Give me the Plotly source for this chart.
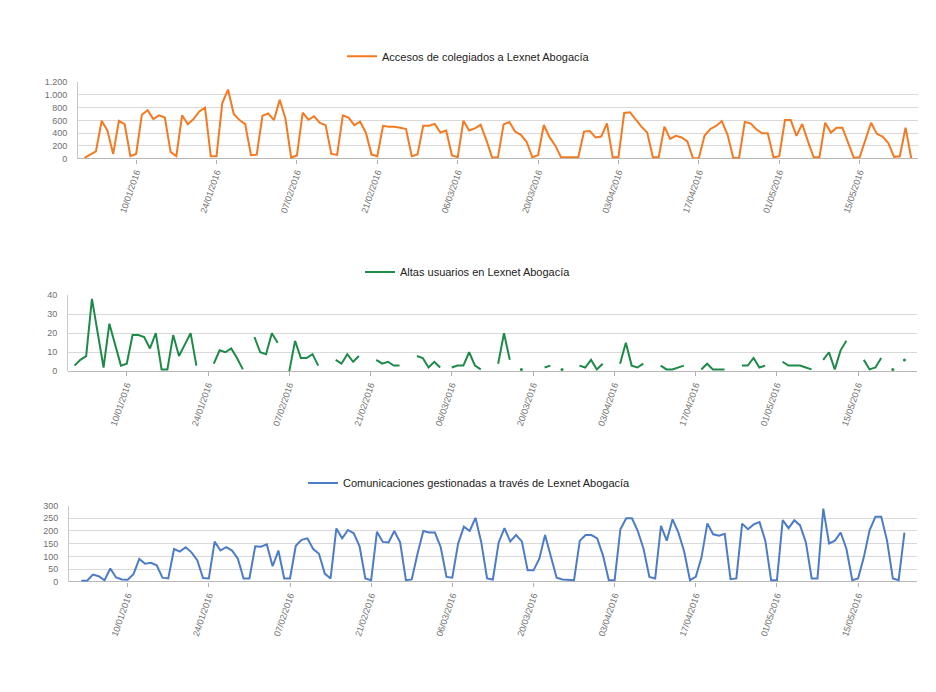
import plotly.graph_objects as go
from datetime import date, timedelta

# ---------------- data ----------------
start_date = date(2016, 1, 1)
n_days = 145
dates = [(start_date + timedelta(days=i)).isoformat() for i in range(n_days)]

tick_dates = ["2016-01-10", "2016-01-24", "2016-02-07", "2016-02-21", "2016-03-06",
              "2016-03-20", "2016-04-03", "2016-04-17", "2016-05-01", "2016-05-15"]
tick_labels = ["10/01/2016", "24/01/2016", "07/02/2016", "21/02/2016", "06/03/2016",
               "20/03/2016", "03/04/2016", "17/04/2016", "01/05/2016", "15/05/2016"]

accesos = [10, 60, 114, 594, 440, 72, 594, 540, 36, 72,
           690, 760, 620, 680, 645, 105, 36, 680, 540, 620,
           740, 800, 36, 36, 873, 1085, 700, 605, 540, 52,
           62, 672, 710, 605, 925, 630, 15, 47, 720, 610,
           665, 560, 525, 72, 57, 680, 645, 525, 580, 410,
           62, 36, 515, 500, 500, 485, 465, 36, 62, 515,
           515, 545, 410, 440, 47, 20, 595, 440, 475, 530,
           290, 15, 15, 537, 574, 424, 372, 264, 20, 52,
           527, 336, 202, 20, 20, 20, 20, 424, 434, 331,
           346, 553, 20, 20, 718, 729, 605, 501, 408, 20,
           20, 501, 310, 357, 331, 269, 0, 10, 362, 465,
           512, 589, 372, 10, 10, 574, 553, 460, 398, 398,
           20, 36, 605, 605, 357, 543, 269, 20, 20, 563,
           408, 486, 486, 243, 10, 20, 295, 563, 388, 346,
           243, 26, 36, 486, 0]

altas = [3, 6, 8, 38, 20, 2, 25, 14, 3, 4,
         19, 19, 18, 12, 20, 1, 1, 19, 8, 14,
         20, 3, None, None, 4, 11, 10, 12, 7, 1,
         None, 18, 10, 9, 20, 15, None, 0, 16, 7,
         7, 9, 3, None, None, 6, 4, 9, 5, 8,
         None, None, 6, 4, 5, 3, 3, None, None, 8,
         7, 2, 5, 2, None, 2, 3, 3, 10, 3,
         1, None, None, 4, 20, 6, None, 1, None, None,
         None, 2, 3, None, 1, None, None, 3, 2, 6,
         1, 4, None, None, 4, 15, 3, 2, 4, None,
         None, 3, 1, 1, 2, 3, None, None, 1, 4,
         1, 1, 1, None, None, 3, 3, 7, 2, 3,
         None, None, 5, 3, 3, 3, 2, 1, None, 6,
         10, 1, 11, 16, None, None, 6, 1, 2, 7,
         None, 1, None, 6, None]

comunicaciones = [None, 4, 4, 28, 22, 6, 52, 17, 9, 8,
                  30, 90, 71, 75, 65, 16, 13, 129, 119, 136,
                  116, 85, 15, 13, 158, 123, 136, 123, 91, 13,
                  13, 140, 138, 147, 61, 123, 13, 13, 142, 165,
                  171, 129, 110, 32, 13, 210, 171, 204, 191, 140,
                  13, 6, 197, 157, 155, 200, 155, 6, 9, 110,
                  200, 194, 194, 136, 19, 16, 150, 217, 200, 252,
                  155, 13, 9, 155, 211, 159, 184, 159, 45, 45,
                  90, 184, 97, 16, 9, 8, 6, 162, 184, 184,
                  171, 103, 6, 6, 207, 250, 250, 200, 129, 19,
                  13, 220, 162, 246, 194, 119, 6, 19, 97, 230,
                  187, 181, 189, 10, 13, 229, 207, 226, 235, 162,
                  6, 6, 243, 211, 242, 222, 155, 13, 13, 288,
                  151, 162, 194, 129, 6, 13, 97, 204, 256, 256,
                  162, 13, 6, 194, None]

names = ["Accesos de colegiados a Lexnet Abogacía",
         "Altas usuarios en Lexnet Abogacía",
         "Comunicaciones gestionadas a través de Lexnet Abogacía"]
colors = ["#F37A21", "#1E8A48", "#4D7CC7"]

# ---------------- figure ----------------
# page has an 8px body margin: figure is drawn 8px in from the window edge
OFF = 8
W, H = 936 - 2 * OFF, 692 - 2 * OFF
FONT = "Liberation Sans, Arial, sans-serif"


def px_x(p):
    return (p - OFF) / W


def px_y(p):
    return 1 - (p - OFF) / H


def isolated_only(vals):
    out = []
    for i, v in enumerate(vals):
        prev_ok = i > 0 and vals[i - 1] is not None
        next_ok = i < len(vals) - 1 and vals[i + 1] is not None
        out.append(v if (v is not None and not prev_ok and not next_ok) else None)
    return out


fig = go.Figure()
series = [accesos, altas, comunicaciones]
for k, vals in enumerate(series):
    suffix = "" if k == 0 else str(k + 1)
    fig.add_trace(go.Scatter(
        x=dates, y=vals, name=names[k], mode="lines",
        line=dict(color=colors[k], width=2),
        connectgaps=False,
        xaxis="x" + suffix, yaxis="y" + suffix,
        legend="legend" + suffix, showlegend=True,
    ))
    iso = isolated_only(vals)
    if any(v is not None for v in iso):
        fig.add_trace(go.Scatter(
            x=dates, y=iso, mode="markers", showlegend=False,
            marker=dict(size=3, color=colors[k]),
            xaxis="x" + suffix, yaxis="y" + suffix, hoverinfo="skip",
        ))

x_range = ["2015-12-30 21:00", "2016-05-25 04:00"]

x_domains = [[px_x(78), px_x(918)], [px_x(68), px_x(917)], [px_x(69), px_x(917)]]
y_domains = [[px_y(155.7), px_y(78.3)], [px_y(371.7), px_y(294.3)], [px_y(585.3), px_y(508)]]
y_ranges = [[0, 1200], [0, 40], [0, 300]]
y_dticks = [200, 10, 50]
legend_pos = [(342, 52), (360, 271), (303, 485)]

layout = dict(
    width=W, height=H,
    margin=dict(l=0, r=0, t=0, b=0),
    paper_bgcolor="white", plot_bgcolor="white",
    font=dict(family=FONT, size=9, color="#666666"),
    separators=",.",
)
for k in range(3):
    suffix = "" if k == 0 else str(k + 1)
    layout["xaxis" + suffix] = dict(
        domain=x_domains[k], range=x_range, type="date",
        anchor="y" + suffix,
        tickmode="array", tickvals=tick_dates, ticktext=tick_labels,
        tickangle=-71, ticks="outside", ticklen=4, tickcolor="#b0b0b0",
        tickfont=dict(family=FONT, size=9, color="#707070"),
        showgrid=False, showline=False, zeroline=False,
    )
    layout["yaxis" + suffix] = dict(
        domain=y_domains[k], range=y_ranges[k], dtick=y_dticks[k],
        anchor="x" + suffix,
        tickformat=",", ticks="", ticklabelstandoff=8,
        tickfont=dict(family=FONT, size=9, color="#707070"),
        gridcolor="#d9d9d9", gridwidth=1,
        zeroline=True, zerolinecolor="#b8b8b8", zerolinewidth=1,
        showline=True, linecolor="#c8c8c8", linewidth=1,
    )
    lx, ly = legend_pos[k]
    layout["legend" + suffix] = dict(
        x=px_x(lx), y=px_y(ly), xanchor="left", yanchor="middle",
        font=dict(family=FONT, size=11, color="#222222"),
        bgcolor="rgba(0,0,0,0)", borderwidth=0,
    )

fig.update_layout(**layout)
fig.write_html("out.html")
